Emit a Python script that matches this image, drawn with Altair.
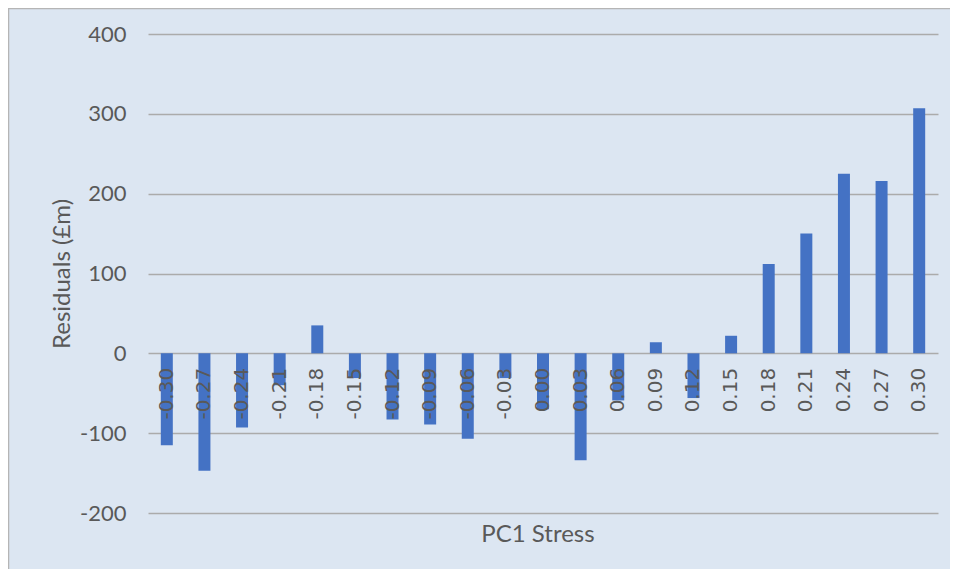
import altair as alt
import pandas as pd

categories = ["-0.30", "-0.27", "-0.24", "-0.21", "-0.18", "-0.15", "-0.12",
              "-0.09", "-0.06", "-0.03", "0.00", "0.03", "0.06", "0.09",
              "0.12", "0.15", "0.18", "0.21", "0.24", "0.27", "0.30"]
residuals = [-115, -147, -93, -40, 35, -31, -83, -89, -107, -31, -70, -134,
             -59, 14, -56, 22, 112, 150, 225, 216, 307]
y_ticks = [-200, -100, 0, 100, 200, 300, 400]
x_title = ["PC1 Stress"]
y_title = "Residuals (£m)"

W, H = 790, 479
TXT = "#595959"

df = pd.DataFrame({"stress": categories, "residual": residuals})

bars = alt.Chart(df).mark_bar(size=12, color="#4472C4").encode(
    x=alt.X(
        "stress:N", sort=categories,
        scale=alt.Scale(paddingInner=0, paddingOuter=0),
        axis=alt.Axis(
            title=None, labelAngle=270, labelAlign="right", labelBaseline="middle",
            labelFont="DejaVu Sans", labelFontSize=20, labelColor=TXT,
            ticks=False, tickSize=0, domain=False, labelPadding=14,
            offset=-H / 3, grid=False, zindex=2,
        ),
    ),
    y=alt.Y(
        "residual:Q",
        scale=alt.Scale(domain=[-200, 400], nice=False, zero=False),
        axis=alt.Axis(
            values=y_ticks, labelExpr="'' + datum.value",
            title=y_title, titleFont="Lato", titleFontSize=24,
            titleFontWeight="normal", titleColor=TXT, titlePadding=5,
            labelFont="Lato", labelFontSize=22, labelColor=TXT, labelPadding=22,
            ticks=False, domain=False, grid=True, gridColor="#ababab", gridWidth=1.6,
        ),
    ),
)

xtitle = alt.Chart(pd.DataFrame({"t": x_title})).mark_text(
    font="Lato", fontSize=24, color=TXT, baseline="middle", align="center"
).encode(text="t:N", x=alt.value(W / 2 - 5), y=alt.value(H + 22))

border = alt.Chart(pd.DataFrame({"a": [0]})).mark_rect(
    filled=False, stroke="#b5b5b5", strokeWidth=1.5
).encode(x=alt.value(-139.5), x2=alt.value(W + 60), y=alt.value(-25.5), y2=alt.value(H + 80))

chart = alt.layer(bars, xtitle, border).properties(
    width=W, height=H,
    autosize=alt.AutoSizeParams(type="none"),
    padding={"left": 140, "top": 26, "right": 12, "bottom": 56},
    background="#dce6f2",
).configure_view(stroke=None)

chart.save("out.html", embed_options={"renderer": "svg", "actions": False})
